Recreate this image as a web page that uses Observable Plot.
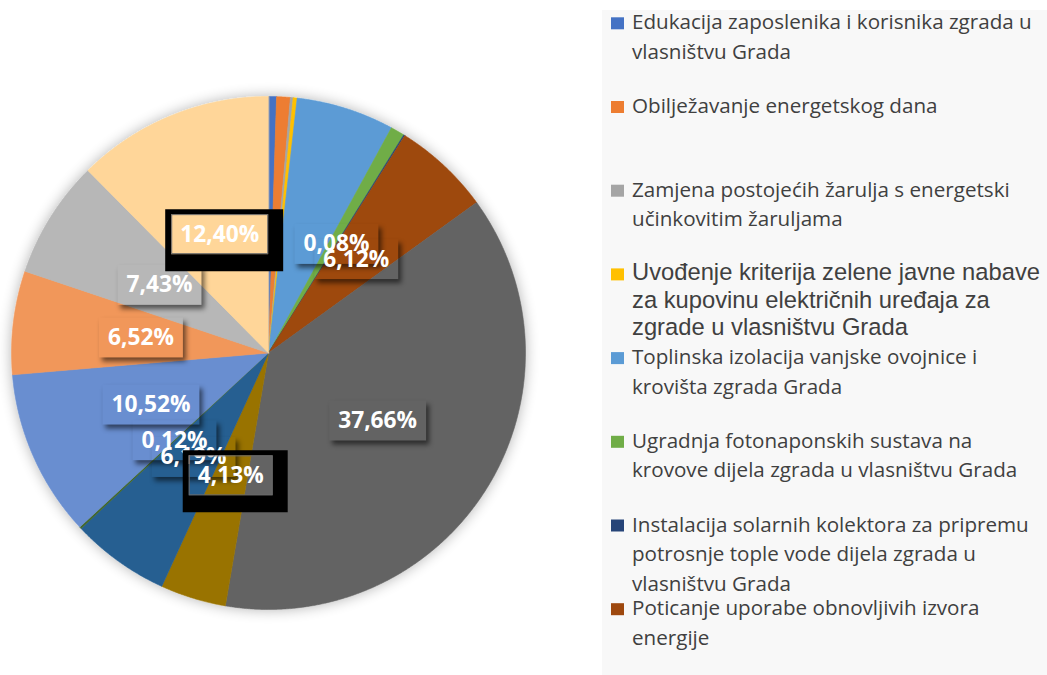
<!DOCTYPE html>
<html>
<head>
<meta charset="utf-8">
<script src="https://cdn.jsdelivr.net/npm/d3@7"></script>
<script src="https://cdn.jsdelivr.net/npm/@observablehq/plot@0.6"></script>
<style>
  html, body { margin: 0; padding: 0; background: #ffffff; }
  body { width: 1047px; height: 675px; overflow: hidden; position: relative; }
  #chart { position: absolute; left: 0; top: 0; }
  #legend { position: absolute; left: 602px; top: 0px; }
</style>
</head>
<body>
<div id="chart"></div>
<div id="legend"></div>
<script>
// ---------------- data ----------------
const categories = [
  "Edukacija zaposlenika i korisnika zgrada u vlasništvu Grada",
  "Obilježavanje energetskog dana",
  "Zamjena postojećih žarulja s energetski učinkovitim žaruljama",
  "Uvođenje kriterija zelene javne nabave za kupovinu električnih uređaja za zgrade u vlasništvu Grada",
  "Toplinska izolacija vanjske ovojnice i krovišta zgrada Grada",
  "Ugradnja fotonaponskih sustava na krovove dijela zgrada u vlasništvu Grada",
  "Instalacija solarnih kolektora za pripremu potrosnje tople vode dijela zgrada u vlasništvu Grada",
  "Poticanje uporabe obnovljivih izvora energije",
  "Mjera 9", "Mjera 10", "Mjera 11", "Mjera 12",
  "Mjera 13", "Mjera 14", "Mjera 15", "Mjera 16"
];
const shares = [0.50, 0.86, 0.17, 0.25, 6.16, 0.88, 0.08, 6.12,
                37.66, 4.13, 6.19, 0.12, 10.52, 6.52, 7.43, 12.40];
const labelTexts = [null, null, null, null, null, null, "0,08%", "6,12%",
                    "37,66%", "4,13%", "6,19%", "0,12%", "10,52%", "6,52%", "7,43%", "12,40%"];
const colors = ["#4472C4", "#ED7D31", "#A5A5A5", "#FFC000", "#5B9BD5", "#70AD47", "#264478", "#9E480E",
                "#636363", "#997300", "#255E91", "#43682B", "#698ED0", "#F1975A", "#B7B7B7", "#FFD699"];
const framedLabels = ["12,40%", "4,13%"];
const legendLines = [
  ["Edukacija zaposlenika i korisnika zgrada u", "vlasništvu Grada"],
  ["Obilježavanje energetskog dana"],
  ["Zamjena postojećih žarulja s energetski", "učinkovitim žaruljama"],
  ["Uvođenje kriterija zelene javne nabave", "za kupovinu električnih uređaja za", "zgrade u vlasništvu Grada"],
  ["Toplinska izolacija vanjske ovojnice i", "krovišta zgrada Grada"],
  ["Ugradnja fotonaponskih sustava na", "krovove dijela zgrada u vlasništvu Grada"],
  ["Instalacija solarnih kolektora za pripremu", "potrosnje tople vode dijela zgrada u", "vlasništvu Grada"],
  ["Poticanje uporabe obnovljivih izvora", "energije"]
];

// ---------------- font fitting ----------------
const ctx = document.createElement("canvas").getContext("2d");
function fitSize(text, font, weight, target) {
  ctx.font = `${weight} 100px ${font}`;
  return 100 * target / ctx.measureText(text).width;
}
const labelFont = "'Open Sans', sans-serif";
const legendFont = "'Open Sans', sans-serif";
const arialFont = "'Liberation Sans', Arial, sans-serif";
const labelSize = fitSize("37,66%", labelFont, "bold", 79);
const legendSize = fitSize("Edukacija zaposlenika i korisnika zgrada u", legendFont, "normal", 400);
const arialSize = fitSize("Uvođenje kriterija zelene javne nabave", arialFont, "normal", 408);

// ---------------- pie geometry ----------------
const arcs = d3.pie().sort(null).value(d => d)(shares);
const slicePoints = arcs.flatMap((a, i) => {
  const n = Math.max(2, Math.ceil((a.endAngle - a.startAngle) / 0.004));
  const pts = [{category: categories[i], x: 0, y: 0}];
  for (let j = 0; j <= n; j++) {
    const t = a.startAngle + (a.endAngle - a.startAngle) * j / n;
    pts.push({category: categories[i], x: Math.sin(t), y: Math.cos(t)});
  }
  return pts;
});
const labelData = arcs
  .map((a, i) => ({category: categories[i], text: labelTexts[i], mid: (a.startAngle + a.endAngle) / 2}))
  .filter(d => d.text);

const chart = Plot.plot({
  width: 603,
  height: 675,
  marginLeft: 11,
  marginRight: 78,
  marginTop: 96,
  marginBottom: 66,
  x: {domain: [-1, 1], axis: null},
  y: {domain: [-1, 1], axis: null},
  color: {domain: categories, range: colors},
  style: {background: "transparent", overflow: "visible"},
  marks: [
    Plot.line(slicePoints, {x: "x", y: "y", z: "category", fill: "category", stroke: "category", strokeWidth: 0.6, curve: "linear-closed"}),
    Plot.text(labelData, {
      x: d => 0.5 * Math.sin(d.mid),
      y: d => 0.5 * Math.cos(d.mid),
      text: "text",
      fill: "white",
      fontSize: labelSize,
      fontWeight: "bold",
      fontFamily: labelFont
    })
  ]
});
document.getElementById("chart").append(chart);

// ---------------- decorations: shadows, label boxes, frames ----------------
const svg = d3.select(chart);
const defs = svg.insert("defs", ":first-child");
const pieF = defs.append("filter").attr("id", "pieShadow")
  .attr("x", "-20%").attr("y", "-20%").attr("width", "140%").attr("height", "140%");
pieF.append("feGaussianBlur").attr("in", "SourceAlpha").attr("stdDeviation", 7).attr("result", "b");
pieF.append("feComponentTransfer").attr("in", "b").attr("result", "c")
  .append("feFuncA").attr("type", "linear").attr("slope", 0.3);
const pm = pieF.append("feMerge");
pm.append("feMergeNode").attr("in", "c");
pm.append("feMergeNode").attr("in", "SourceGraphic");
defs.append("filter").attr("id", "lblBlur")
  .attr("x", "-50%").attr("y", "-50%").attr("width", "200%").attr("height", "200%")
  .append("feGaussianBlur").attr("stdDeviation", 2.5);

const lineG = chart.querySelector('g[aria-label="line"]');
lineG.setAttribute("filter", "url(#pieShadow)");

const textG = chart.querySelector('g[aria-label="text"]');
const textEls = Array.from(textG.querySelectorAll("text"));
const boxG = document.createElementNS("http://www.w3.org/2000/svg", "g");
textG.parentNode.insertBefore(boxG, textG);
const frameG = document.createElementNS("http://www.w3.org/2000/svg", "g");
chart.appendChild(frameG);
const svgRect = chart.getBoundingClientRect();

textEls.forEach((el, i) => {
  const r = el.getBoundingClientRect();
  const cx = r.left - svgRect.left + r.width / 2;
  const cy = r.top - svgRect.top + r.height / 2 + 1;
  const w = r.width + 18, h = 40;
  const bx = cx - w / 2, by = cy - h / 2;
  const mid = "lblMask" + i;
  const m = defs.append("mask").attr("id", mid).attr("maskUnits", "userSpaceOnUse")
    .attr("x", 0).attr("y", 0).attr("width", 603).attr("height", 675);
  m.append("rect").attr("x", 0).attr("y", 0).attr("width", 603).attr("height", 675).attr("fill", "white");
  m.append("rect").attr("x", bx).attr("y", by).attr("width", w).attr("height", h).attr("fill", "black");
  d3.select(boxG).append("rect")
    .attr("x", bx + 3).attr("y", by + 4).attr("width", w).attr("height", h)
    .attr("fill", "rgba(0,0,0,0.55)")
    .attr("filter", "url(#lblBlur)")
    .attr("mask", `url(#${mid})`);
  const t = labelData[i].text;
  if (framedLabels.includes(t)) {
    const ox = bx - 6, oy = by - 5, ow = w + 6 + 15, oh = h + 5 + 17;
    d3.select(frameG).append("path")
      .attr("fill", "black").attr("fill-rule", "evenodd")
      .attr("d", `M${ox},${oy}h${ow}v${oh}h${-ow}Z M${bx},${by}h${w}v${h}h${-w}Z`);
    d3.select(frameG).append("rect")
      .attr("x", bx + 0.5).attr("y", by + 0.5).attr("width", w - 1).attr("height", h - 1)
      .attr("fill", "none").attr("stroke", "#6a6a6a").attr("stroke-width", 1);
  }
});

// ---------------- legend ----------------
const legW = 445, legH = 675, offX = 602;
const leg = d3.select("#legend").append("svg").attr("width", legW).attr("height", legH);
leg.append("rect").attr("y", 10).attr("width", legW).attr("height", legH - 10).attr("fill", "#f8f8f8");
legendLines.forEach((lines, i) => {
  const base = 29.3 + i * 83.7;
  const isArial = i === 3;
  leg.append("rect")
    .attr("x", 611 - offX).attr("y", base - 12).attr("width", 13).attr("height", 12)
    .attr("fill", colors[i]);
  const tx = leg.append("text")
    .attr("x", 632 - offX).attr("y", base)
    .attr("fill", "#404040")
    .attr("font-family", isArial ? arialFont : legendFont)
    .attr("font-size", isArial ? arialSize : legendSize);
  lines.forEach((ln, j) => {
    tx.append("tspan").attr("x", 632 - offX).attr("y", base + j * (isArial ? 27.5 : 29.5)).text(ln);
  });
});
</script>
</body>
</html>
